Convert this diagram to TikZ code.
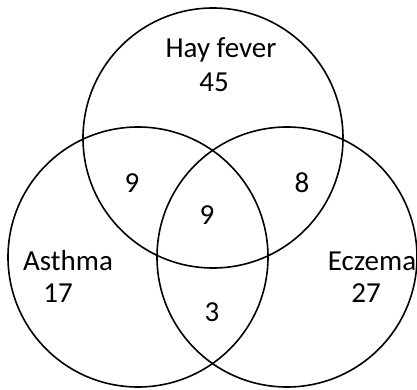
\documentclass[tikz,border=0pt]{standalone}
\usepackage{fontspec}
\setmainfont{Carlito}
\begin{document}
\begin{tikzpicture}[x=1pt,y=-1pt,
  set/.style={draw=black,line width=1.6pt,circle,minimum size=260pt,inner sep=0pt},
  lab/.style={anchor=base,inner sep=0pt,font=\fontsize{29}{31}\selectfont}]
\useasboundingbox (0,0) rectangle (417,390);
\node[set] (hay) at (213,138) {};
\node[set] (asthma) at (138,257) {};
\node[set] (eczema) at (287,257) {};
\node[lab] (thay) at (221,58) {Hay fever};
\node[lab] (nhay) at (214,92) {45};
\node[lab] (nha) at (132,192) {9};
\node[lab] (nhe) at (302,192) {8};
\node[lab] (nall) at (207,224) {9};
\node[lab] (tas) at (68,270) {Asthma};
\node[lab] (nas) at (58,302) {17};
\node[lab] (tec) at (372,270) {Eczema};
\node[lab] (nec) at (366,302) {27};
\node[lab] (nae) at (212,321) {3};
\end{tikzpicture}
\end{document}
